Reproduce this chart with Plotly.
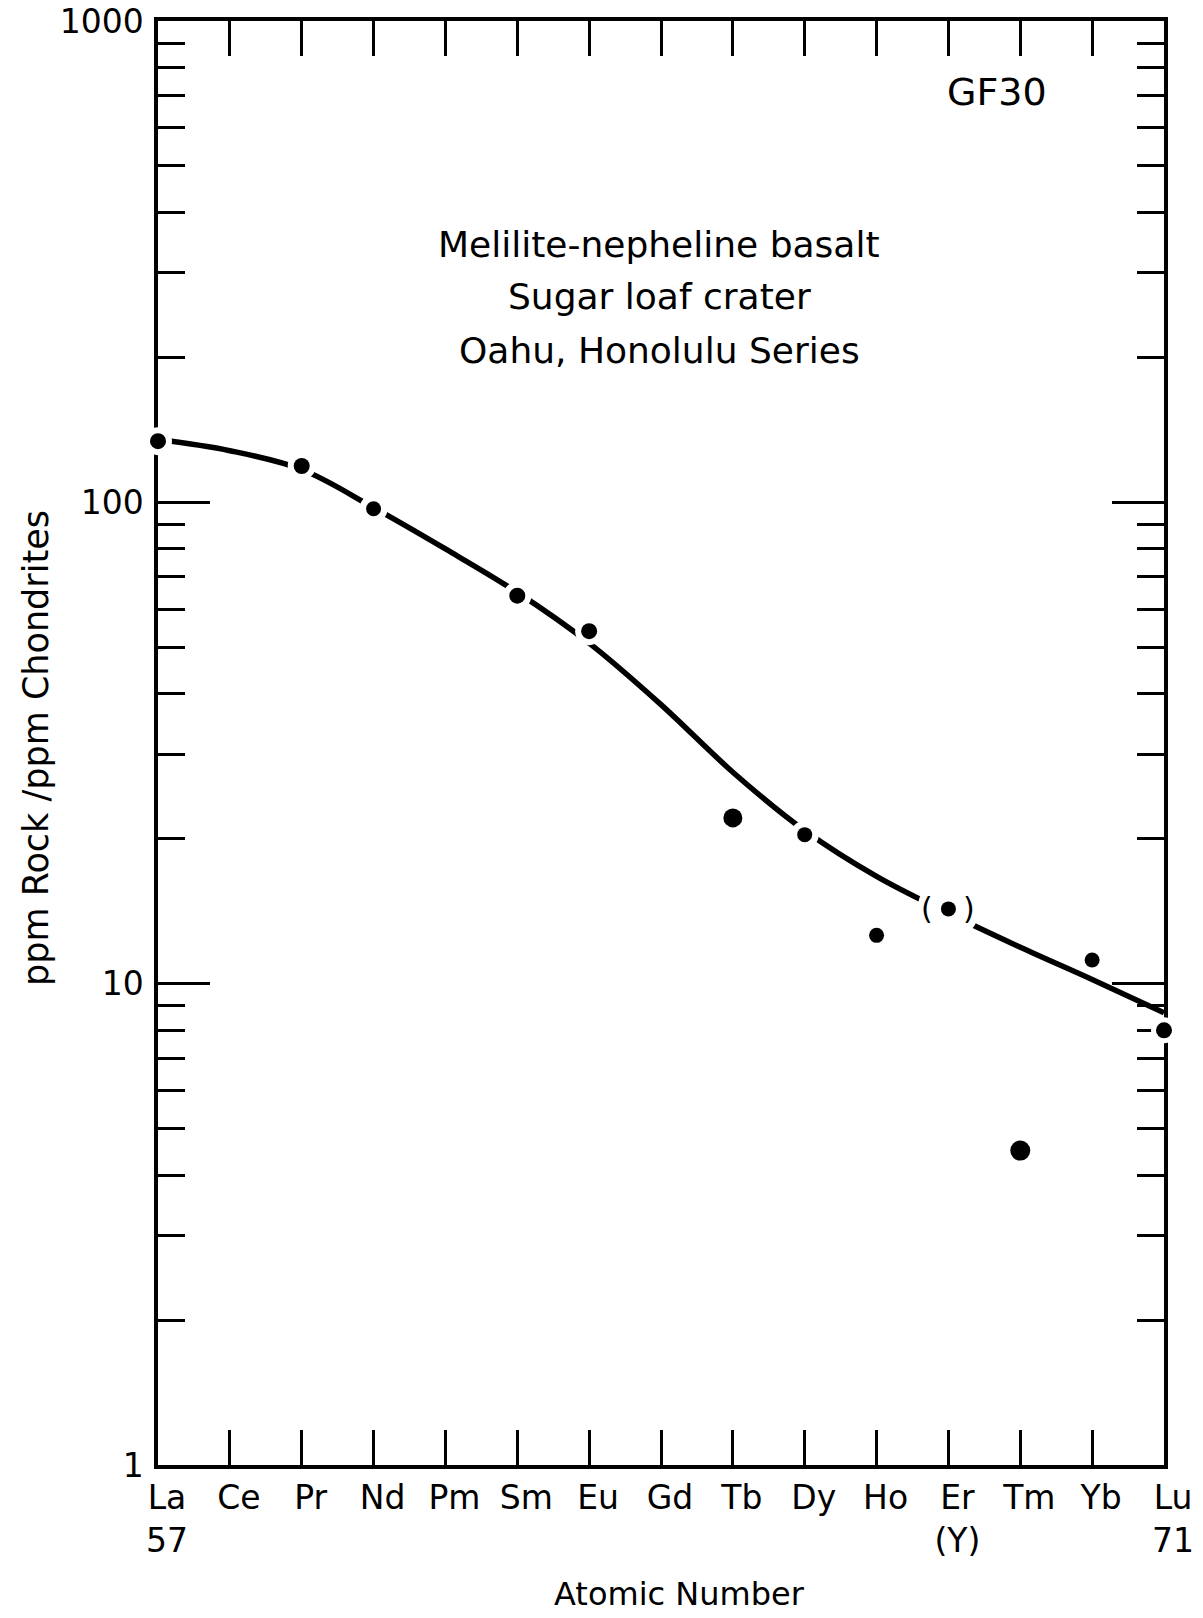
import math
import plotly.graph_objects as go

# Rare-earth elements along the x axis (atomic numbers 57-71)
elements = ["La", "Ce", "Pr", "Nd", "Pm", "Sm", "Eu", "Gd", "Tb", "Dy", "Ho", "Er", "Tm", "Yb", "Lu"]
atomic_numbers = list(range(57, 72))
second_line = {"La": "57", "Er": "(Y)", "Lu": "71"}

# Chondrite-normalised abundances of sample GF30
sample_elements = ["La", "Pr", "Nd", "Sm", "Eu", "Tb", "Dy", "Ho", "Er", "Tm", "Yb", "Lu"]
sample_z = [57, 59, 60, 62, 63, 65, 66, 67, 68, 69, 70, 71]
sample_values = [134, 119, 97, 64, 54, 22.1, 20.4, 12.6, 14.3, 4.5, 11.2, 8.0]

# Hand-drawn trend curve through the pattern
curve_z = list(range(57, 72))
curve_values = [135, 128, 117, 97.5, 80, 65, 51, 38, 27.5, 20.8, 16.7, 14.0, 11.9, 10.2, 8.7]

# y-axis decades and intermediate tick values
major_ticks = [1, 10, 100, 1000]
minor_ticks = [m * d for d in (1, 10, 100) for m in range(2, 10)]

FONT = "DejaVu Sans"
W, H = 1203, 1618
M = dict(l=158, r=39, t=21, b=153)

# marker styling per sample point
dot_sizes = [16, 16, 15, 16, 16, 19, 15, 15, 15, 20, 15, 16]
gap_sizes = [28, 28, 28, 28, 28, 0, 28, 0, 62, 0, 0, 26]

fig = go.Figure()

fig.add_trace(go.Scatter(
    x=curve_z, y=curve_values, mode="lines",
    line=dict(color="black", width=5.5, shape="spline", smoothing=1.0),
    hoverinfo="skip",
))
# white halos break the curve and frame around the plotted points
fig.add_trace(go.Scatter(
    x=sample_z, y=sample_values, mode="markers",
    marker=dict(color="white", size=gap_sizes, opacity=1, line=dict(width=0)),
    cliponaxis=False, hoverinfo="skip",
))
fig.add_trace(go.Scatter(
    x=sample_z, y=sample_values, mode="markers",
    marker=dict(color="black", size=dot_sizes, opacity=1, line=dict(width=0)),
    cliponaxis=False, text=sample_elements,
))

ticktext = [e + ("<br>" + second_line[e] if e in second_line else "") for e in elements]

fig.update_xaxes(
    range=[57, 71], tickvals=atomic_numbers, ticktext=ticktext,
    ticks="inside", ticklen=35, tickwidth=2.5, tickcolor="black",
    showline=True, linewidth=3.5, linecolor="black", mirror="ticks",
    showgrid=False, zeroline=False, layer="below traces",
    tickfont=dict(family=FONT, size=33, color="black"),
    ticklabelshift=9, ticklabelstandoff=1, automargin=False,
)
fig.update_yaxes(
    type="log", range=[0, 3], tickvals=major_ticks,
    ticktext=[str(v) for v in major_ticks],
    ticks="inside", ticklen=52, tickwidth=2.5, tickcolor="black",
    showline=True, linewidth=3.5, linecolor="black", mirror="ticks",
    showgrid=False, zeroline=False, layer="below traces",
    tickfont=dict(family=FONT, size=33, color="black"),
    ticklabelstandoff=4, ticklabeloverflow="allow", automargin=False,
    minor=dict(tickvals=minor_ticks, ticks="inside", ticklen=27,
               tickwidth=2.5, tickcolor="black", showgrid=False),
)

plot_w = W - M["l"] - M["r"]
plot_h = H - M["t"] - M["b"]


def note(text, px, py, size, **kw):
    """Text placed by its centre, given in page pixels."""
    return dict(text=text, xref="paper", yref="paper",
                x=(px - M["l"]) / plot_w, y=(H - M["b"] - py) / plot_h,
                xanchor="center", yanchor="middle", showarrow=False,
                font=dict(family=FONT, size=size, color="black"), **kw)


annotations = [
    note("ppm Rock /ppm Chondrites", 36, 748, 35, textangle=-90),
    note("Atomic Number", 679, 1594, 32),
    note("GF30", 997, 92, 38),
    note("Melilite-nepheline basalt", 659, 244, 36),
    note("Sugar loaf crater", 659, 297, 36),
    note("Oahu, Honolulu Series", 659, 350, 36),
]
er_idx = sample_elements.index("Er")
for sym, shift in (("(", -21), (")", 21)):
    annotations.append(dict(
        text=sym, xref="x", yref="y", x=sample_z[er_idx],
        y=math.log10(sample_values[er_idx]), xshift=shift,
        xanchor="center", yanchor="middle", showarrow=False,
        font=dict(family=FONT, size=30, color="black"),
    ))

fig.update_layout(
    width=W, height=H, margin=M,
    paper_bgcolor="white", plot_bgcolor="white",
    showlegend=False, annotations=annotations,
    font=dict(family=FONT, color="black"),
)

fig.write_html("out.html")
